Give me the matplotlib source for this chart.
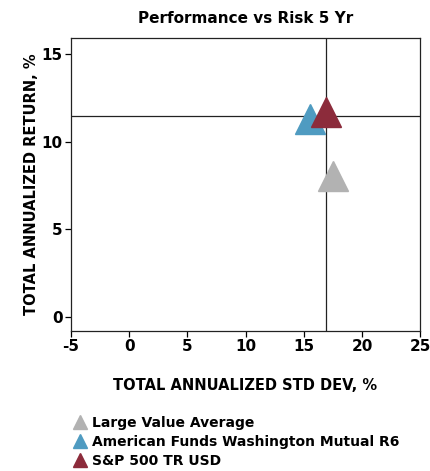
import numpy as np
import matplotlib
matplotlib.use("Agg")
import matplotlib.pyplot as plt
from matplotlib.lines import Line2D

# data
names = ["Large Value Average", "American Funds Washington Mutual R6", "S&P 500 TR USD"]
std_dev = [17.55, 15.5, 16.9]
returns = [8.05, 11.3, 11.7]
colors = ["#b2b2b2", "#4f9bc1", "#8c2b3b"]

# benchmark crosshair
bench_x = 16.88
bench_y = 11.46

x_ticks = [-5, 0, 5, 10, 15, 20, 25]
y_ticks = [0, 5, 10, 15]

plt.rcParams['font.family'] = ['DejaVu Sans']
plt.rcParams['axes.unicode_minus'] = False

fig = plt.figure(figsize=(4.31, 4.71), dpi=100)
ax = fig.add_axes([0.1647, 0.2972, 0.8101, 0.6214])

ax.axvline(bench_x, color="#222222", lw=0.9, zorder=1)
ax.axhline(bench_y, color="#222222", lw=0.9, zorder=1)

for x, y, c in zip(std_dev, returns, colors):
    ax.plot(x, y, marker="^", ms=21, color=c, mec=c, ls="none", zorder=3)

ax.set_xlim(-5, 25)
ax.set_ylim(-0.82, 15.9)
ax.set_xticks(x_ticks)
ax.set_yticks(y_ticks)
ax.tick_params(direction="out", length=4, width=0.9, labelsize=11, pad=2)
for lab in ax.get_xticklabels() + ax.get_yticklabels():
    lab.set_fontweight("bold")
for s in ax.spines.values():
    s.set_linewidth(0.9)
    s.set_color("#222222")

ax.set_title("Performance vs Risk 5 Yr", fontsize=11, fontweight="bold", pad=11)
ax.set_xlabel("TOTAL ANNUALIZED STD DEV, %", fontsize=10.5, fontweight="bold", labelpad=17)
ax.set_ylabel("TOTAL ANNUALIZED RETURN, %", fontsize=10.5, fontweight="bold", labelpad=2)

handles = [Line2D([0], [0], marker="^", ls="none", color=c, ms=9.5) for c in colors]
fig.legend(handles, names, loc="upper left", bbox_to_anchor=(0.163, 0.128), frameon=False,
           handlelength=0.6, handletextpad=0.6, labelspacing=0.35,
           borderaxespad=0, prop={"weight": "bold", "size": 10})

fig.savefig("out.png", dpi=100)
